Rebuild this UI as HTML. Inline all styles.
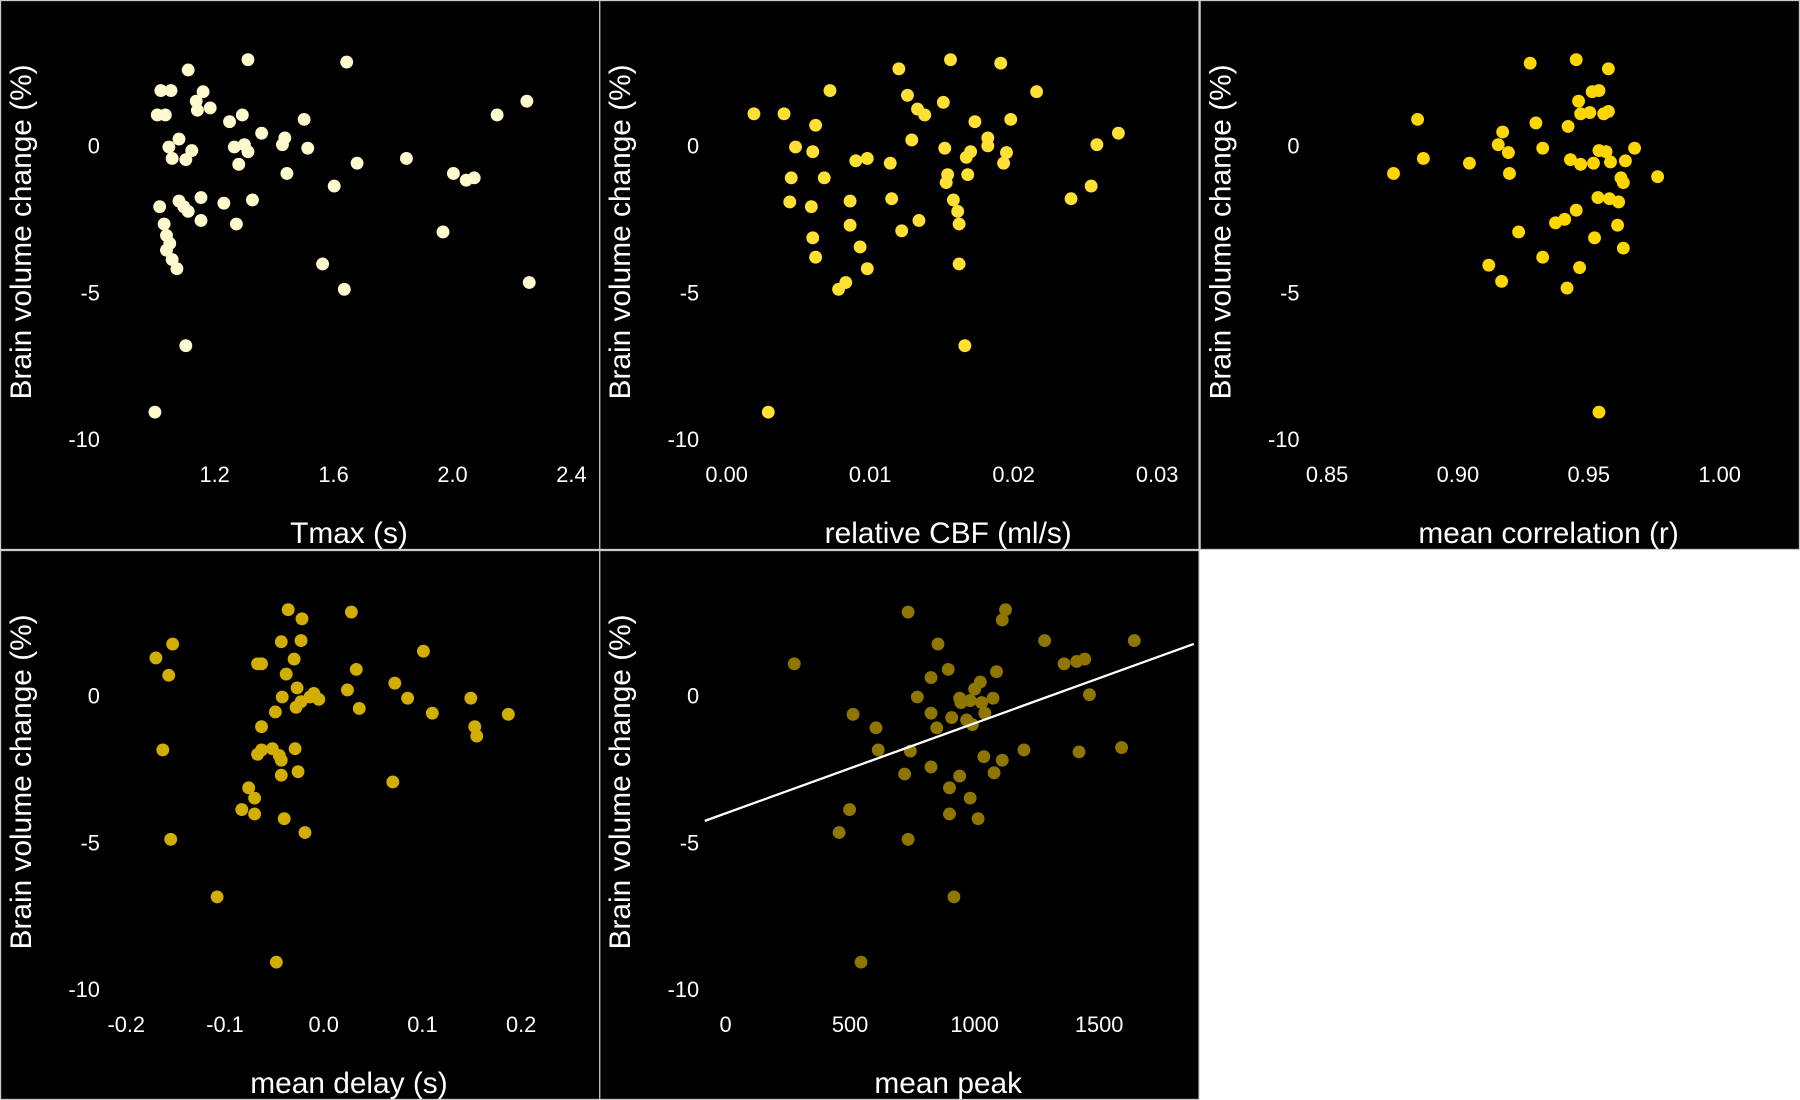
<!DOCTYPE html>
<html><head><meta charset="utf-8"><style>
html,body{margin:0;padding:0;background:#fff;}
svg{display:block;font-family:"Liberation Sans",Arial,sans-serif;}
</style></head><body>
<svg id="chart" width="1800" height="1100" viewBox="0 0 1568 958" preserveAspectRatio="none" xmlns="http://www.w3.org/2000/svg">
<rect x="0" y="0" width="1568" height="958" fill="#fff"/>
</svg>
<script>
// shared y ticks
const yTicks = [0, -5, -10];
const yTickLabels = ["0", "-5", "-10"];

// Panel 1: Tmax
const p1x = [1.111,1.312,1.644,1.019,1.053,1.161,1.138,1.034,1.185,1.293,1.250,1.142,1.007,1.501,1.358,1.080,1.046,1.123,1.312,1.300,1.266,1.436,1.513,1.428,1.057,1.103,1.281,1.679,1.845,2.150,2.250,2.003,2.046,2.073,1.443,1.602,1.015,1.080,1.096,1.154,1.231,1.327,1.111,1.154,1.030,1.273,1.038,1.049,1.038,1.057,1.073,1.968,1.563,1.636,2.258,1.103,0.999];
const p1y = [2.58,2.93,2.85,1.88,1.88,1.84,1.52,1.05,1.29,1.05,0.82,1.21,1.05,0.90,0.43,0.23,-0.04,-0.16,-0.20,0.04,-0.04,0.27,-0.08,0.04,-0.43,-0.47,-0.63,-0.59,-0.43,1.05,1.52,-0.94,-1.17,-1.09,-0.94,-1.37,-2.07,-1.88,-2.07,-1.76,-1.95,-1.84,-2.23,-2.54,-2.66,-2.66,-3.05,-3.32,-3.55,-3.87,-4.18,-2.93,-4.02,-4.88,-4.65,-6.80,-9.06];
const p1ticks = [1.2,1.6,2.0,2.4];
const p1labels = ["1.2","1.6","2.0","2.4"];

// Panel 2: relative CBF
const p2x = [.0120,.0156,.0191,.0072,.0126,.0216,.0019,.0040,.0133,.0138,.0151,.0062,.0173,.0198,.0182,.0129,.0048,.0060,.0152,.0170,.0182,.0195,.0258,.0273,.0090,.0098,.0114,.0167,.0193,.0045,.0068,.0154,.0168,.0153,.0044,.0059,.0086,.0115,.0158,.0161,.0134,.0240,.0254,.0086,.0122,.0162,.0060,.0093,.0062,.0098,.0162,.0083,.0078,.0166,.0029];
const p2y = [2.62,2.93,2.81,1.88,1.72,1.84,1.09,1.09,1.25,1.05,1.48,0.70,0.82,0.90,0.27,0.20,-0.04,-0.20,-0.08,-0.20,0,-0.23,0.04,0.43,-0.51,-0.43,-0.59,-0.39,-0.59,-1.09,-1.09,-0.98,-0.98,-1.25,-1.91,-2.07,-1.88,-1.80,-1.84,-2.23,-2.54,-1.80,-1.37,-2.70,-2.89,-2.66,-3.13,-3.44,-3.79,-4.18,-4.02,-4.65,-4.88,-6.80,-9.06];
const p2ticks = [0,0.01,0.02,0.03];
const p2labels = ["0.00","0.01","0.02","0.03"];

// Panel 3: mean correlation
const p3x = [.9276,.9452,.9575,.9461,.9513,.9539,.9504,.9557,.9469,.9575,.8846,.9298,.9171,.9421,.9154,.9324,.9193,.9539,.9566,.9675,.9430,.9469,.9518,.9583,.9640,.8868,.9044,.8754,.9197,.9763,.9623,.9632,.9535,.9579,.9614,.9452,.9408,.9373,.9610,.9232,.9522,.9632,.9324,.9118,.9465,.9167,.9417,.9539];
const p3y = [2.81,2.93,2.62,1.52,1.84,1.88,1.13,1.09,1.09,1.17,0.90,0.78,0.47,0.66,0.04,-0.08,-0.23,-0.16,-0.20,-0.08,-0.47,-0.63,-0.59,-0.55,-0.51,-0.43,-0.59,-0.94,-0.94,-1.05,-1.09,-1.25,-1.76,-1.80,-1.91,-2.19,-2.50,-2.62,-2.70,-2.93,-3.13,-3.48,-3.79,-4.06,-4.14,-4.61,-4.84,-9.06];
const p3ticks = [0.85,0.90,0.95,1.00];
const p3labels = ["0.85","0.90","0.95","1.00"];

// Panel 4: mean delay
const p4x = [-.036,.028,-.022,-.043,-.023,-.170,-.153,.101,-.067,-.063,-.030,-.157,-.038,.033,.072,-.027,.024,-.042,-.010,-.014,-.005,-.023,.085,.149,-.049,-.028,.036,.110,.187,-.063,.153,.155,-.163,-.063,-.052,-.045,-.029,-.043,-.067,-.026,-.043,.070,-.076,-.070,-.083,-.070,-.040,-.019,-.155,-.108,-.048];
const p4y = [2.93,2.85,2.62,1.84,1.88,1.29,1.76,1.52,1.09,1.09,1.25,0.70,0.74,0.90,0.43,0.27,0.20,-0.04,0.08,-0.04,-0.12,-0.20,-0.08,-0.08,-0.55,-0.39,-0.43,-0.59,-0.63,-1.05,-1.05,-1.37,-1.84,-1.84,-1.80,-2.03,-1.80,-2.19,-1.99,-2.58,-2.70,-2.93,-3.13,-3.48,-3.87,-4.02,-4.18,-4.65,-4.88,-6.84,-9.06];
const p4ticks = [-0.2,-0.1,0.0,0.1,0.2];
const p4labels = ["-0.2","-0.1","0.0","0.1","0.2"];

// Panel 5: mean peak
const p5x = [733,1124,1111,853,1281,1641,276,1359,1410,1442,894,1088,1023,825,1000,1461,770,940,982,1028,1074,945,825,908,968,1041,512,604,848,991,613,742,1198,1419,1590,1037,1111,719,825,1078,940,899,982,498,899,1014,456,733,917,544];
const p5y = [2.85,2.93,2.58,1.76,1.88,1.88,1.09,1.09,1.17,1.25,0.90,0.82,0.47,0.62,0.23,0.04,-0.04,-0.08,-0.16,-0.23,-0.08,-0.23,-0.59,-0.74,-0.82,-0.59,-0.63,-1.09,-1.09,-0.98,-1.84,-1.88,-1.84,-1.91,-1.76,-2.07,-2.19,-2.66,-2.42,-2.62,-2.73,-3.13,-3.48,-3.87,-4.02,-4.18,-4.65,-4.88,-6.84,-9.06];
const p5ticks = [0,500,1000,1500];
const p5labels = ["0","500","1000","1500"];
const fitIntercept = -4.0;
const fitSlope = 0.003067;

const NS = "http://www.w3.org/2000/svg";
const svg = document.getElementById("chart");
function mk(tag, attrs, parent){
  const e = document.createElementNS(NS, tag);
  for (const k in attrs) e.setAttribute(k, attrs[k]);
  (parent || svg).appendChild(e);
  return e;
}

const panels = [
  {ox:0, oy:0, xs:p1x, ys:p1y, ticks:p1ticks, labels:p1labels, t0:1.2, px0:187, k:259, color:"#FFFACD", title:"Tmax (s)", name:"tmax"},
  {ox:522, oy:0, xs:p2x, ys:p2y, ticks:p2ticks, labels:p2labels, t0:0, px0:633, k:12500, color:"#FFE033", title:"relative CBF (ml/s)", name:"cbf"},
  {ox:1045, oy:0, xs:p3x, ys:p3y, ticks:p3ticks, labels:p3labels, t0:0.85, px0:1156, k:2280, color:"#FFD700", title:"mean correlation (r)", name:"correlation"},
  {ox:0, oy:479, xs:p4x, ys:p4y, ticks:p4ticks, labels:p4labels, t0:0, px0:282, k:860, color:"#D2AE00", title:"mean delay (s)", name:"delay"},
  {ox:522, oy:479, xs:p5x, ys:p5y, ticks:p5ticks, labels:p5labels, t0:0, px0:632, k:0.217, color:"#8F7600", title:"mean peak", name:"peak"}
];

panels.forEach((p, pi) => {
  const g = mk("g", {});
  
  
  const bg = mk("rect", {x:p.ox+0.5, y:p.oy+0.5, width:522, height:478, fill:"#000", stroke:"#ccc", "stroke-width":1}, g);
  
  
  const xPix = v => p.px0 + (v - p.t0) * p.k;
  const yPix = v => p.oy + 127 - v * 25.6;
  yTicks.forEach((t, i) => {
    const tx = mk("text", {x:p.ox+87, y:yPix(t)+6.5, fill:"#fff", "font-size":19, "text-anchor":"end"}, g);
    tx.textContent = yTickLabels[i];
    
    
  });
  p.ticks.forEach((t, i) => {
    const tx = mk("text", {x:xPix(t), y:p.oy+420, fill:"#fff", "font-size":19, "text-anchor":"middle"}, g);
    tx.textContent = p.labels[i];
    
    
  });
  const yt = mk("text", {x:0, y:0, fill:"#fff", "font-size":26, "text-anchor":"middle", transform:`translate(${p.ox+27},${p.oy+202}) rotate(-90)`}, g);
  yt.textContent = "Brain volume change (%)";
  
  
  const xt = mk("text", {x:p.ox+304, y:p.oy+473, fill:"#fff", "font-size":26, "text-anchor":"middle"}, g);
  xt.textContent = p.title;
  
  
  p.xs.forEach((xv, i) => {
    const c = mk("circle", {cx:xPix(xv), cy:yPix(p.ys[i]), r:5.6, fill:p.color}, g);
    
    
  });
  if (pi === 4) {
    const xa = -83, xb = 1880;
    const ln = mk("line", {x1:xPix(xa), y1:yPix(fitIntercept + fitSlope*xa), x2:xPix(xb), y2:yPix(fitIntercept + fitSlope*xb), stroke:"#fff", "stroke-width":2}, g);
    
    
  }
});
</script>
</body></html>
